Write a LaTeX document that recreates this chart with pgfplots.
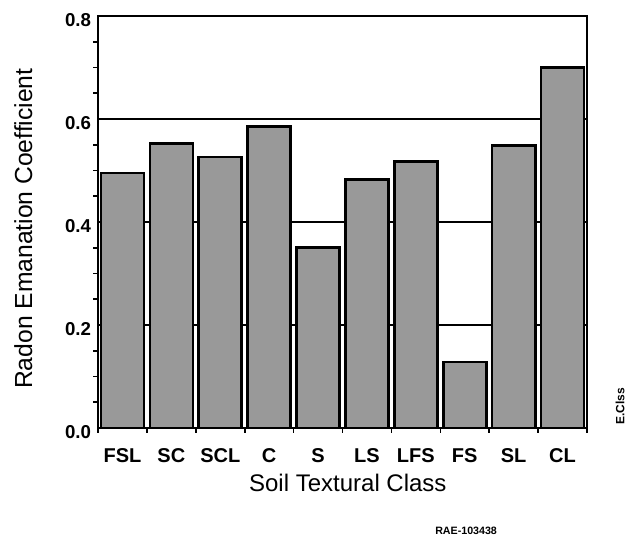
\documentclass[border=0pt]{standalone}
\usepackage{fontspec}
\setmainfont{Liberation Sans}
\usepackage{pgfplots}
\pgfplotsset{compat=1.18}
\begin{document}
\begin{tikzpicture}[x=0.75pt,y=0.75pt]
\useasboundingbox (0,0) rectangle (627,537);
\begin{axis}[
  at={(73.5pt,81.75pt)}, anchor=south west,
  scale only axis, width=366.75pt, height=309pt,
  xmin=-0.5, xmax=9.5, ymin=0, ymax=0.8,
  xtick={0,...,9},
  xticklabels={FSL,SC,SCL,C,S,LS,LFS,FS,SL,CL},
  minor xtick={-0.5,0.5,...,9.5},
  ytick={0,0.2,0.4,0.6,0.8},
  minor y tick num=3,
  xtick pos=bottom, ytick pos=left,
  tick align=outside,
  major tick length=0pt,
  minor tick length=3.5pt,
  tick style={black, line width=1.2pt},
  ymajorgrids,
  grid style={black, line width=1.3pt},
  axis line style={line width=1.5pt},
  /pgf/number format/assume math mode=true,
  /pgf/number format/fixed,
  /pgf/number format/fixed zerofill,
  /pgf/number format/precision=1,
  yticklabel style={font=\bfseries\fontsize{14pt}{16pt}\selectfont, anchor=east, inner sep=0pt, xshift=-5pt, yshift=-3pt},
  xticklabel style={font=\bfseries\fontsize{15pt}{17pt}\selectfont, anchor=base, inner sep=0pt, yshift=-26pt},
  xlabel={Soil Textural Class},
  xlabel style={font=\fontsize{18pt}{20pt}\selectfont, at={(axis description cs:0.5,0)}, anchor=base, inner sep=0pt, yshift=-47.25pt, xshift=4pt},
  ylabel={Radon Emanation Coefficient},
  ylabel style={font=\fontsize{18.5pt}{20pt}\selectfont, at={(axis description cs:0,0.5)}, anchor=center, inner sep=0pt, yshift=56pt, xshift=-5pt},
  clip=false,
]
\addplot[ybar, bar width=0.88, fill=black!40, draw=black, line width=2pt]
  coordinates {(0,0.495) (1,0.553) (2,0.526) (3,0.586) (4,0.350) (5,0.483) (6,0.518) (7,0.128) (8,0.548) (9,0.700)};
\end{axis}
\node[rotate=90, font=\bfseries\fontsize{9pt}{10pt}\selectfont, inner sep=0pt] at (620,131) {E.Clss};
\node[anchor=base west, font=\bfseries\fontsize{8pt}{9pt}\selectfont, inner sep=0pt] at (435,3) {RAE-103438};
\end{tikzpicture}
\end{document}
